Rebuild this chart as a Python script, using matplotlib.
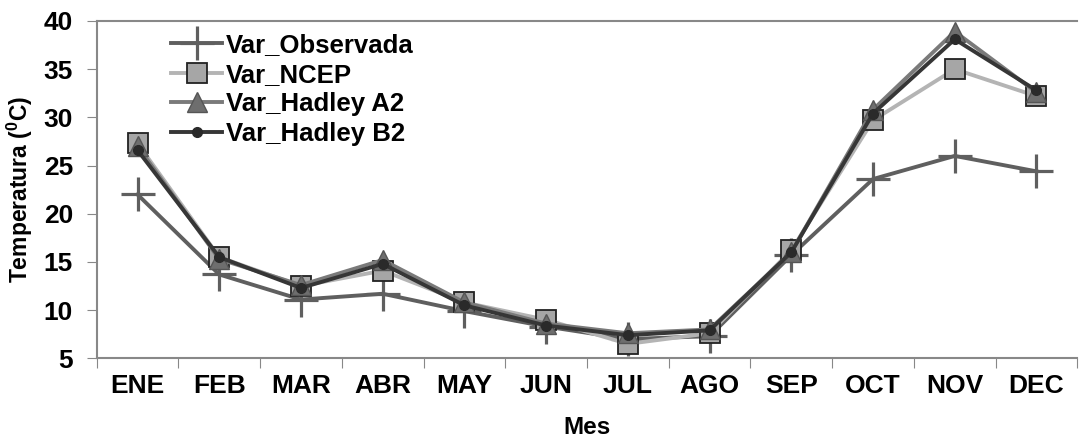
import numpy as np
import matplotlib
matplotlib.use('Agg')
import matplotlib.pyplot as plt

plt.rcParams['font.family'] = ['Liberation Sans', 'DejaVu Sans']
plt.rcParams['font.weight'] = 'bold'
plt.rcParams['mathtext.fontset'] = 'custom'
plt.rcParams['mathtext.bf'] = 'Liberation Sans:bold'
plt.rcParams['mathtext.rm'] = 'Liberation Sans:bold'

# =============================================================================
# DATA
# =============================================================================
meses = ['ENE', 'FEB', 'MAR', 'ABR', 'MAY', 'JUN', 'JUL', 'AGO', 'SEP', 'OCT', 'NOV', 'DEC']
var_observada = [22.0, 13.7, 11.1, 11.7, 9.9, 8.3, 7.0, 7.3, 15.7, 23.6, 26.0, 24.4]
var_ncep = [27.3, 15.5, 12.5, 14.1, 10.8, 9.0, 6.5, 7.6, 16.2, 29.7, 35.0, 32.2]
var_hadley_a2 = [27.0, 15.3, 12.6, 15.2, 10.8, 8.6, 7.6, 8.0, 16.0, 30.8, 38.9, 32.6]
var_hadley_b2 = [26.6, 15.5, 12.3, 14.8, 10.5, 8.4, 7.4, 7.9, 16.0, 30.4, 38.1, 32.8]

x = np.arange(len(meses))

# =============================================================================
# PLOT
# =============================================================================
fig, ax = plt.subplots(figsize=(10.86, 4.37), dpi=100)
fig.subplots_adjust(left=0.089, right=0.992, top=0.952, bottom=0.18)

ax.plot(x, var_observada, '-', color='#5f5f5f', linewidth=2.8, marker='+',
        markersize=24, markeredgewidth=2.3, label='Var_Observada', zorder=3)
ax.plot(x, var_ncep, '-', color='#b4b4b4', linewidth=2.8, marker='s',
        markersize=14, markerfacecolor='#a6a6a6', markeredgecolor='#222222',
        markeredgewidth=1.3, label='Var_NCEP', zorder=4)
ax.plot(x, var_hadley_a2, '-', color='#7a7a7a', linewidth=2.8, marker='^',
        markersize=14, markerfacecolor='#6e6e6e', markeredgecolor='#555555',
        label='Var_Hadley A2', zorder=5)
ax.plot(x, var_hadley_b2, '-', color='#363636', linewidth=2.8, marker='o',
        markersize=7, markerfacecolor='#2a2a2a', markeredgecolor='#2a2a2a',
        label='Var_Hadley B2', zorder=6)

ax.set_xlim(-0.5, 11.5)
ax.set_ylim(5, 40)
ax.set_yticks(np.arange(5, 41, 5))
ax.set_xticks(np.arange(-0.5, 12, 1), minor=False)
ax.set_xticklabels([])
ax.set_xticks(x, minor=True)
ax.set_xticklabels(meses, minor=True)
ax.tick_params(axis='x', which='minor', length=0, pad=11, labelsize=19)
ax.tick_params(axis='x', which='major', length=7, color='#888888', direction='out')
ax.tick_params(axis='y', length=7, color='#888888', labelsize=19, pad=10)

for side in ['left', 'bottom', 'top']:
    ax.spines[side].set_color('#888888')
    ax.spines[side].set_linewidth(1.5)
ax.spines['right'].set_visible(False)

ax.set_xlabel('Mes', fontsize=17.5, fontweight='bold', labelpad=13)
ax.set_ylabel('Temperatura ($^{\\mathbf{0}}$C)', fontsize=16.5, fontweight='bold', labelpad=6)

ax.legend(loc='upper left', bbox_to_anchor=(0.06, 1.01), frameon=False,
          handlelength=2.0, handletextpad=0.15, labelspacing=0.22,
          borderaxespad=0.2, prop={'weight': 'bold', 'size': 18.5})

plt.savefig('out.png', dpi=100)
